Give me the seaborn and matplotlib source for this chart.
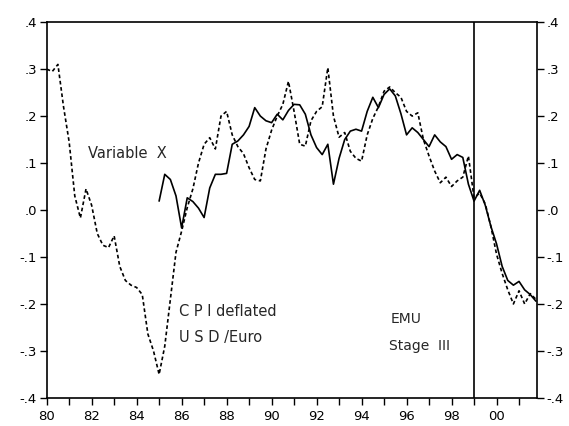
import numpy as np
import pandas as pd
import seaborn as sns
from matplotlib import pyplot as plt
from matplotlib.ticker import FixedLocator, MultipleLocator

# quarterly data
usd_euro_start = 1980.0
usd_euro = [0.300, 0.295, 0.310, 0.220, 0.145, 0.030, -0.017, 0.045,
            0.010, -0.050, -0.075, -0.080, -0.055, -0.120, -0.150, -0.160,
            -0.165, -0.180, -0.264, -0.300, -0.350, -0.290, -0.190, -0.090,
            -0.045, 0.005, 0.045, 0.100, 0.140, 0.154, 0.130, 0.200,
            0.210, 0.160, 0.135, 0.120, 0.090, 0.065, 0.062, 0.130,
            0.170, 0.200, 0.225, 0.274, 0.210, 0.140, 0.136, 0.190,
            0.210, 0.220, 0.303, 0.200, 0.155, 0.165, 0.125, 0.110,
            0.104, 0.160, 0.195, 0.220, 0.253, 0.262, 0.250, 0.240,
            0.210, 0.200, 0.207, 0.150, 0.115, 0.083, 0.058, 0.070,
            0.050, 0.062, 0.070, 0.115, 0.026, 0.036, 0.013, -0.035,
            -0.094, -0.135, -0.170, -0.200, -0.172, -0.200, -0.178, -0.190]

var_x_start = 1985.0
var_x = [0.019, 0.076, 0.065, 0.030, -0.038, 0.026, 0.018, 0.004,
         -0.016, 0.047, 0.076, 0.076, 0.078, 0.140, 0.147, 0.160,
         0.178, 0.218, 0.200, 0.190, 0.186, 0.204, 0.192, 0.212,
         0.225, 0.224, 0.204, 0.160, 0.133, 0.118, 0.140, 0.055,
         0.110, 0.150, 0.168, 0.172, 0.168, 0.210, 0.240, 0.218,
         0.246, 0.258, 0.243, 0.205, 0.160, 0.175, 0.165, 0.150,
         0.135, 0.160, 0.145, 0.135, 0.108, 0.118, 0.112, 0.055,
         0.019, 0.042, 0.010, -0.035, -0.072, -0.120, -0.150, -0.160,
         -0.152, -0.170, -0.180, -0.194]

emu_stage3 = 1999.0
year_ticks = list(range(1980, 2001, 2))
year_labels = ['%02d' % (y % 100) for y in year_ticks]
y_ticks = [-0.4, -0.3, -0.2, -0.1, 0.0, 0.1, 0.2, 0.3, 0.4]
y_labels = ['-.4', '-.3', '-.2', '-.1', '.0', '.1', '.2', '.3', '.4']


def to_frame(start, values):
    t = start + 0.25 * np.arange(len(values))
    return pd.DataFrame({'year': t, 'value': values})


def main():
    sns.set_style('ticks')
    plt.rcParams['font.family'] = ['DejaVu Sans']

    fig = plt.figure(figsize=(5.69, 4.26), dpi=100)
    ax = fig.add_axes([0.082, 0.066, 0.861, 0.882])

    df_usd = to_frame(usd_euro_start, usd_euro)
    df_x = to_frame(var_x_start, var_x)

    sns.lineplot(data=df_usd, x='year', y='value', ax=ax, color='black',
                 lw=1.2, linestyle=(0, (2.2, 1.6)))
    sns.lineplot(data=df_x, x='year', y='value', ax=ax, color='black', lw=1.2)
    ax.axvline(emu_stage3, color='black', lw=1.2)

    ax.set_xlim(1980, 2001.78)
    ax.set_ylim(-0.4, 0.4)
    ax.xaxis.set_major_locator(FixedLocator(year_ticks))
    ax.xaxis.set_minor_locator(MultipleLocator(1))
    ax.set_xticklabels(year_labels)
    ax.set_yticks(y_ticks)
    ax.set_yticklabels(y_labels)
    ax.tick_params(which='both', direction='out', length=5, width=1,
                   labelsize=9.5, colors='black')
    ax.tick_params(axis='y', right=True, labelright=True, pad=2)
    ax.set_xlabel('')
    ax.set_ylabel('')
    for s in ax.spines.values():
        s.set_linewidth(1.2)
        s.set_color('black')

    ax.text(1981.85, 0.12, 'Variable  X', fontsize=10.5, va='center')
    ax.text(1985.9, -0.217, 'C P I deflated', fontsize=10.5, va='center')
    ax.text(1985.9, -0.272, 'U S D /Euro', fontsize=10.5, va='center')
    ax.text(1995.3, -0.232, 'EMU', fontsize=10, va='center')
    ax.text(1995.2, -0.289, 'Stage  III', fontsize=10, va='center')

    fig.savefig('out.png', dpi=100)


if __name__ == "__main__":
    main()
